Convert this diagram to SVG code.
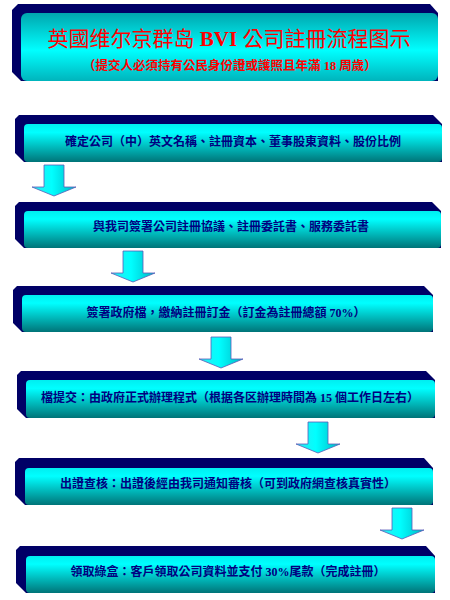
<svg xmlns="http://www.w3.org/2000/svg" xmlns:xlink="http://www.w3.org/1999/xlink" width="450" height="600" viewBox="0 0 450 600">
<defs>
  <linearGradient id="gTitle" x1="0" y1="0" x2="0" y2="1">
    <stop offset="0" stop-color="#00a6ae"/>
    <stop offset="0.55" stop-color="#00ffff"/>
    <stop offset="1" stop-color="#00b4bc"/>
  </linearGradient>
  <linearGradient id="gStep" x1="0" y1="0" x2="0" y2="1">
    <stop offset="0" stop-color="#00eef0"/>
    <stop offset="0.22" stop-color="#00ffff"/>
    <stop offset="1" stop-color="#007478"/>
  </linearGradient>
  <linearGradient id="gArrow" x1="0" y1="0" x2="1" y2="0">
    <stop offset="0" stop-color="#30e8ee"/>
    <stop offset="0.45" stop-color="#00ffff"/>
    <stop offset="1" stop-color="#00b8c4"/>
  </linearGradient>
  <path id="arrow" d="M -10,0 H 10 V 22 H 22 L 0,31 L -22,22 H -10 Z"/>
  <style>
    .back { fill: #000066; }
    .front { fill: url(#gStep); }
    .titlefront { fill: url(#gTitle); }
    .step { font-family: "Liberation Serif", "Noto Sans CJK TC", serif; font-size: 12px; font-weight: bold; fill: #000080; text-anchor: middle; dominant-baseline: central; }
    .title { font-family: "Liberation Serif", "Noto Sans CJK TC", serif; font-size: 21px; fill: #ff0000; text-anchor: middle; dominant-baseline: central; }
    .sub { font-family: "Liberation Serif", "Noto Sans CJK TC", serif; font-size: 12.5px; font-weight: bold; fill: #ff0000; text-anchor: middle; dominant-baseline: central; }
    .arr { fill: url(#gArrow); stroke: #5a5ab8; stroke-width: 0.8; }
  </style>
</defs>
<rect width="450" height="600" fill="#ffffff"/>

<g id="title">
  <polygon class="back" points="12,10 18,4 430,4 438,13 438,81 21,81 12,72"/>
  <rect class="titlefront" x="21" y="13" width="417" height="68" rx="6"/>
  <text class="title" x="229" y="38.5">英國维尔京群岛 <tspan font-weight="bold">BVI</tspan> 公司註冊流程图示</text>
  <text class="sub" x="230" y="66">（提交人必須持有公民身份證或護照且年滿 18 周歲）</text>
</g>

<g id="step1">
  <polygon class="back" points="15,119 19,115 433,115 442,124 442,162 24,162 15,153"/>
  <rect class="front" x="24" y="124" width="418" height="38" rx="4"/>
  <text class="step" x="233" y="142">確定公司（中）英文名稱、註冊資本、董事股東資料、股份比例</text>
</g>

<g id="step2">
  <polygon class="back" points="15,206 19,202 432,202 441,211 441,248 24,248 15,239"/>
  <rect class="front" x="24" y="211" width="417" height="37" rx="4"/>
  <text class="step" x="231" y="227">與我司簽署公司註冊協議、註冊委託書、服務委託書</text>
</g>

<g id="step3">
  <polygon class="back" points="13,290 17,286 424,286 433,295 433,332 22,332 13,323"/>
  <rect class="front" x="22" y="295" width="411" height="37" rx="4"/>
  <text class="step" x="226" y="313">簽署政府檔，繳納註冊訂金（訂金為註冊總額 70%）</text>
</g>

<g id="step4">
  <polygon class="back" points="17,375 21,371 426,371 435,380 435,418 26,418 17,409"/>
  <rect class="front" x="26" y="380" width="409" height="38" rx="4"/>
  <text class="step" x="230" y="398">檔提交：由政府正式辦理程式（根据各区辦理時間為 15 個工作日左右）</text>
</g>

<g id="step5">
  <polygon class="back" points="15,462 19,458 424,458 433,468 433,505 25,505 15,495"/>
  <rect class="front" x="25" y="468" width="408" height="37" rx="4"/>
  <text class="step" x="228" y="484">出證查核：出證後經由我司通知審核（可到政府網查核真實性）</text>
</g>

<g id="step6">
  <polygon class="back" points="16,550 20,546 426,546 435,556 435,593 26,593 16,583"/>
  <rect class="front" x="26" y="556" width="409" height="37" rx="4"/>
  <text class="step" x="228" y="572">領取綠盒：客戶領取公司資料並支付 30%尾款（完成註冊）</text>
</g>

<g id="connectors">
  <use class="arr" xlink:href="#arrow" href="#arrow" transform="translate(54,165)"/>
  <use class="arr" xlink:href="#arrow" href="#arrow" transform="translate(133,251)"/>
  <use class="arr" xlink:href="#arrow" href="#arrow" transform="translate(221,337)"/>
  <use class="arr" xlink:href="#arrow" href="#arrow" transform="translate(318,422)"/>
  <use class="arr" xlink:href="#arrow" href="#arrow" transform="translate(402,508)"/>
</g>
</svg>
